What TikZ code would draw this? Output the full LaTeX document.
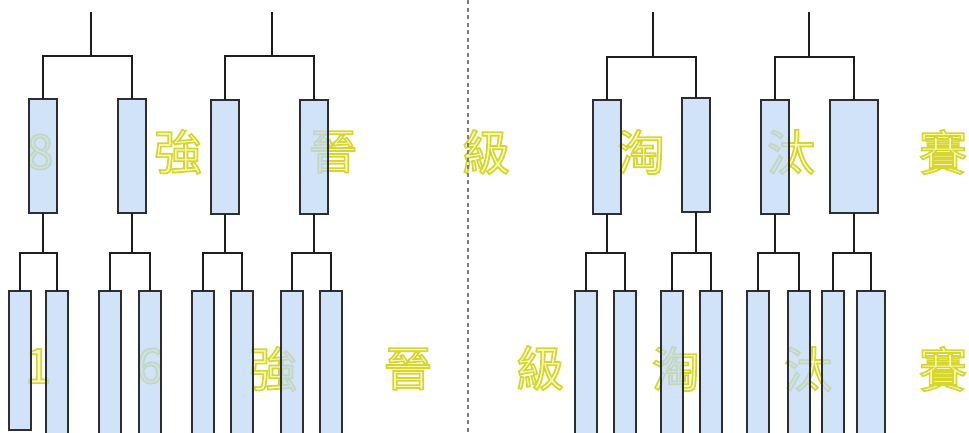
\documentclass[tikz,border=0pt]{standalone}
\usepackage{fontspec}
\newfontfamily\cjk{Noto Sans CJK TC}
\definecolor{boxfill}{RGB}{190,216,246}
\definecolor{boxline}{RGB}{45,45,50}
\definecolor{linec}{RGB}{30,30,30}
\definecolor{labfill}{RGB}{250,250,190}
\definecolor{dashc}{RGB}{125,125,125}
% outlined text: fill in the current colour, outline in yellow-olive
\newcommand\olab[1]{\special{pdf:literal direct 0.84 0.84 0.18 RG 1.7 w 2 Tr}#1\special{pdf:literal direct 0 Tr}}
\tikzset{
  box/.style={draw=boxline, line width=1.5pt, fill=boxfill, fill opacity=0.72,
    draw opacity=1, inner sep=0pt, outer sep=0pt, anchor=north west},
  lab/.style={inner sep=0pt, text=labfill, font=\cjk\fontsize{48}{48}\selectfont},
  conn/.style={draw=linec, line width=1.6pt},
  sep/.style={draw=dashc, line width=1.6pt, dash pattern=on 4pt off 3.5pt}
}
\begin{document}
\begin{tikzpicture}[x=1pt,y=-1pt]
\useasboundingbox (0,0) rectangle (969,432);
\clip (0,0) rectangle (969,432);
% labels (behind the boxes)
\node[lab] (a1) at (40,152) {\olab{8}};
\node[lab] (a2) at (178,152) {\olab{強}};
\node[lab] (a3) at (333,152) {\olab{晉}};
\node[lab] (a4) at (486,152) {\olab{級}};
\node[lab] (a5) at (641,152) {\olab{淘}};
\node[lab] (a6) at (791,152) {\olab{汰}};
\node[lab] (a7) at (943,152) {\olab{賽}};
\node[lab] (c1) at (38,366) {\olab{1}};
\node[lab] (c2) at (150,366) {\olab{6}};
\node[lab] (c3) at (273,369) {\olab{強}};
\node[lab] (c4) at (408,369) {\olab{晉}};
\node[lab] (c5) at (540,368) {\olab{級}};
\node[lab] (c6) at (676,369) {\olab{淘}};
\node[lab] (c7) at (808,369) {\olab{汰}};
\node[lab] (c8) at (943,369) {\olab{賽}};
% top boxes
\node[box, minimum width=28pt, minimum height=114pt] (t1) at (29,99) {};
\node[box, minimum width=28pt, minimum height=114pt] (t2) at (118,99) {};
\node[box, minimum width=28pt, minimum height=114pt] (t3) at (211,100) {};
\node[box, minimum width=28pt, minimum height=114pt] (t4) at (300,100) {};
\node[box, minimum width=28pt, minimum height=114pt] (t5) at (593,100) {};
\node[box, minimum width=28pt, minimum height=114pt] (t6) at (682,98) {};
\node[box, minimum width=28pt, minimum height=114pt] (t7) at (761,100) {};
\node[box, minimum width=48pt, minimum height=113pt] (t8) at (830,100) {};
% bottom boxes
\node[box, minimum width=22pt, minimum height=139pt] (b1) at (9,291) {};
\node[box, minimum width=22pt, minimum height=150pt] (b2) at (46,291) {};
\node[box, minimum width=22pt, minimum height=150pt] (b3) at (99,291) {};
\node[box, minimum width=22pt, minimum height=150pt] (b4) at (139,291) {};
\node[box, minimum width=22pt, minimum height=150pt] (b5) at (192,291) {};
\node[box, minimum width=22pt, minimum height=150pt] (b6) at (231,291) {};
\node[box, minimum width=22pt, minimum height=150pt] (b7) at (281,291) {};
\node[box, minimum width=22pt, minimum height=150pt] (b8) at (320,291) {};
\node[box, minimum width=22pt, minimum height=150pt] (b9) at (575,291) {};
\node[box, minimum width=22pt, minimum height=150pt] (b10) at (614,291) {};
\node[box, minimum width=22pt, minimum height=150pt] (b11) at (661,291) {};
\node[box, minimum width=22pt, minimum height=150pt] (b12) at (700,291) {};
\node[box, minimum width=22pt, minimum height=150pt] (b13) at (747,291) {};
\node[box, minimum width=22pt, minimum height=150pt] (b14) at (788,291) {};
\node[box, minimum width=22pt, minimum height=150pt] (b15) at (822,291) {};
\node[box, minimum width=28pt, minimum height=150pt] (b16) at (857,291) {};
% top brackets
\coordinate (s1) at (91,12);  \coordinate (j1) at (91,56);
\coordinate (s2) at (272,12); \coordinate (j2) at (272,56);
\coordinate (s3) at (653,12); \coordinate (j3) at (653,57);
\coordinate (s4) at (809,12); \coordinate (j4) at (809,57);
\draw[conn] (s1) -- (j1);
\draw[conn] (t1.north) |- (j1) -| (t2.north);
\draw[conn] (s2) -- (j2);
\draw[conn] (t3.north) |- (j2) -| (t4.north);
\draw[conn] (s3) -- (j3);
\draw[conn] (t5.north) |- (j3) -| (t6.north);
\draw[conn] (s4) -- (j4);
\draw[conn] (t7.north) |- (j4) -| (t8.north);
% bottom brackets
\foreach \t/\l/\r in {t1/b1/b2, t2/b3/b4, t3/b5/b6, t4/b7/b8, t5/b9/b10, t6/b11/b12, t7/b13/b14, t8/b15/b16}{
  \draw[conn] (\t.south) -- (\t.south |- 0,253) coordinate (m\t);
  \draw[conn] (\l.north) |- (m\t) -| (\r.north);
}
% separator
\coordinate (d1) at (468,0);
\coordinate (d2) at (468,432);
\draw[sep] (d1) -- (d2);
\end{tikzpicture}
\end{document}
